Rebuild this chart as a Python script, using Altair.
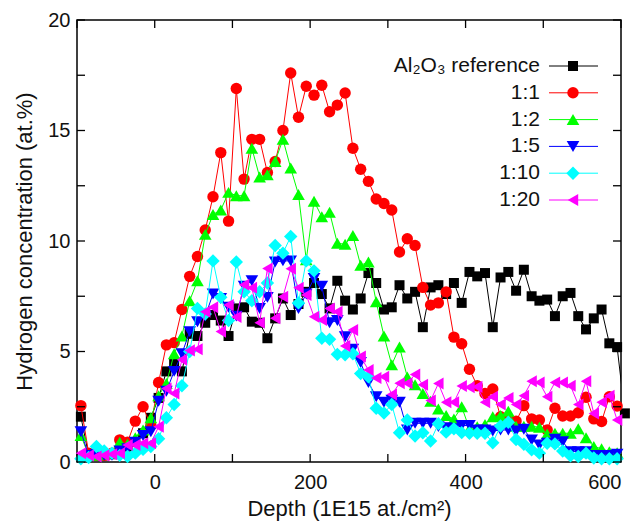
import altair as alt
import pandas as pd

# ---------------- data ----------------
depth = list(range(-95, 600, 10))  # 70 points, -95 ... 595

al2o3 = [2.05, 0.3, 0.3, 0.3, 0.35, 0.5, 0.7, 0.9, 1.3, 2.0,
         2.9, 4.1, 4.5, 4.1, 5.8, 5.7, 6.3, 6.65, 6.4, 5.7,
         6.95, 7.0, 6.35, 6.3, 5.6, 6.5, 7.4, 6.65, 7.15, 7.7,
         8.1, 7.6, 6.95, 8.2, 7.3, 6.9, 7.4, 8.55, 8.1, 6.9,
         7.0, 8.0, 7.4, 7.7, 6.1, 7.9, 8.0, 7.6, 8.1, 7.2,
         8.6, 8.4, 8.55, 6.1, 8.35, 8.6, 7.75, 8.7, 7.5, 7.3,
         7.35, 6.6, 7.5, 7.65, 6.6, 6.0, 6.5, 6.9, 5.37, 5.2, 2.2]
al2o3_depth = depth + [605]

r1_1 = [2.55, 0.4, 0.3, 0.3, 0.4, 1.0, 0.9, 1.85, 2.5, 1.65,
        3.6, 5.3, 5.4, 6.9, 8.4, 9.3, 10.5, 12.0, 14.0, 10.9,
        16.9, 12.8, 14.6, 14.6, 13.1, 13.6, 15.0, 17.6, 15.6, 17.0,
        16.6, 17.05, 15.85, 16.15, 16.7, 14.2, 13.25, 12.7, 11.9, 11.7,
        11.4, 9.5, 10.1, 9.8, 7.9, 7.1, 7.2, 7.7, 5.65, 5.35,
        4.2, 3.45, 3.1, 3.3, 2.05, 1.95, 1.85, 2.55, 1.95, 1.9,
        1.45, 2.43, 2.08, 2.08, 2.23, 2.93, 1.95, 1.83, 2.95, 2.53]

r1_2 = [1.2, 0.3, 0.3, 0.35, 0.4, 0.9, 0.8, 1.1, 1.45, 2.0,
        3.0, 3.55, 4.9, 5.7, 7.3, 8.2, 10.3, 11.2, 11.4, 12.2,
        12.05, 12.05, 14.2, 12.9, 13.0, 13.6, 14.6, 13.3, 12.1, 9.15,
        11.8, 11.1, 11.3, 9.9, 9.85, 10.25, 8.9, 9.05, 7.25, 5.7,
        4.4, 5.2, 3.85, 3.5, 3.1, 2.75, 2.4, 2.1, 1.95, 2.5,
        1.5, 1.6, 1.7, 2.05, 2.1, 2.3, 1.62, 1.62, 1.62, 1.57,
        1.27, 1.3, 1.3, 1.3, 1.5, 1.1, 0.7, 0.6, 0.47, 0.42]

r1_5 = [1.37, 0.3, 0.35, 0.3, 0.3, 0.5, 0.6, 0.9, 1.2, 1.37,
        2.75, 3.2, 4.1, 4.9, 5.9, 6.35, 6.6, 7.6, 7.4, 7.0,
        6.6, 7.95, 8.2, 6.95, 7.45, 9.05, 9.1, 9.1, 6.95, 7.6,
        8.3, 7.95, 6.3, 6.4, 5.67, 5.1, 4.5, 3.6, 2.95, 2.7,
        2.8, 2.7, 1.45, 1.75, 1.75, 1.75, 1.6, 1.55, 1.5, 1.65,
        1.65, 1.45, 1.45, 1.4, 1.45, 1.45, 1.4, 1.48, 1.0, 0.77,
        0.85, 1.03, 0.92, 0.47, 0.47, 0.47, 0.3, 0.3, 0.3, 0.35]

r1_10 = [0.15, 0.2, 0.7, 0.5, 0.4, 0.3, 0.25, 0.4, 0.57, 0.7,
         1.05, 2.0, 2.6, 3.45, 5.0, 6.95, 6.7, 9.1, 7.45, 6.4,
         9.05, 7.7, 7.3, 7.7, 8.1, 9.8, 9.45, 10.2, 7.2, 9.1,
         8.65, 5.6, 5.55, 4.87, 4.85, 4.9, 4.0, 3.85, 2.43, 2.22,
         2.6, 1.32, 1.9, 1.18, 1.32, 0.95, 1.73, 1.35, 1.5, 1.33,
         1.3, 1.3, 1.3, 0.87, 1.63, 1.8, 1.02, 0.8, 0.55, 0.4,
         0.85, 0.82, 0.5, 0.28, 0.25, 0.4, 0.18, 0.15, 0.15, 0.15]

r1_20 = [0.4, 0.3, 0.25, 0.3, 0.35, 0.4, 0.77, 0.77, 0.85, 0.85,
         1.6, 3.33, 3.1, 4.63, 5.05, 5.1, 6.8, 7.0, 5.9, 7.1,
         6.56, 8.02, 7.88, 6.3, 8.76, 6.5, 7.48, 8.74, 7.88, 7.56,
         6.57, 6.43, 6.95, 6.8, 5.25, 5.97, 4.77, 4.16, 3.8, 3.86,
         3.05, 3.56, 3.56, 3.96, 3.5, 2.78, 3.55, 2.7, 2.7, 3.44,
         3.38, 3.4, 2.7, 2.95, 2.6, 2.9, 2.6, 3.0, 3.65, 3.6,
         2.95, 3.6, 3.6, 3.45, 2.6, 3.65, 2.2, 2.7, 3.0, 1.9]

series_names = ["Al\u2082O\u2083 reference", "1:1", "1:2", "1:5", "1:10", "1:20"]
series_values = [al2o3, r1_1, r1_2, r1_5, r1_10, r1_20]
series_depths = [al2o3_depth, depth, depth, depth, depth, depth]

x_ticks = [-100, 0, 100, 200, 300, 400, 500, 600]
x_labels = [0, 200, 400, 600]
y_ticks = [0, 2.5, 5, 7.5, 10, 12.5, 15, 17.5, 20]
y_labels = [0, 5, 10, 15, 20]

# ---------------- styles ----------------
colors = ["#000000", "#ff0000", "#00ff00", "#0000ff", "#00ffff", "#ff00ff"]
shapes = ["square", "circle", "triangle-up", "triangle-down", "diamond", "triangle-left"]
sizes = [100, 130, 160, 160, 180, 145]

W, H = 544, 442
FONT = "Liberation Sans"

xscale = alt.Scale(domain=[-100, 600], nice=False, zero=False)
yscale = alt.Scale(domain=[0, 20], nice=False, zero=False)

xaxis = alt.Axis(values=x_labels, tickSize=0, domain=False, grid=False,
                 labelFontSize=20, labelPadding=10, labelColor="#111",
                 labelFont=FONT, title="Depth (1E15 at./cm\u00b2)",
                 titleFont=FONT, titleFontSize=22, titleFontWeight="normal",
                 titleColor="#111", titleY=53, titleBaseline="alphabetic")
yaxis = alt.Axis(values=y_labels, tickSize=0, domain=False, grid=False,
                 labelFontSize=20, labelPadding=7, labelColor="#111",
                 labelFont=FONT, title="Hydrogen concentration (at.%)",
                 titleFont=FONT, titleFontSize=22, titleFontWeight="normal",
                 titleColor="#111", titleX=-46, titleY=H / 2,
                 titleBaseline="alphabetic")


def X():
    return alt.X("x:Q", scale=xscale, axis=xaxis)


def Y():
    return alt.Y("y:Q", scale=yscale, axis=yaxis)


layers = []

for name, vals, xs, col, shp, sz in zip(series_names, series_values, series_depths,
                                         colors, shapes, sizes):
    df = pd.DataFrame({"x": xs, "y": vals})
    line = alt.Chart(df).mark_line(color=col, strokeWidth=1, clip=True).encode(
        x=X(), y=Y(), order="x:Q")
    pts = alt.Chart(df).mark_point(shape=shp, filled=True, color=col, size=sz,
                                   opacity=1, strokeWidth=0).encode(x=X(), y=Y())
    layers += [line, pts]

# inward ticks
dfx = pd.DataFrame({"x": x_ticks})
dfy = pd.DataFrame({"y": y_ticks})
TL = 8
layers.append(alt.Chart(dfx).mark_rule(color="black", strokeWidth=1.3).encode(
    x=X(), y=alt.value(H), y2=alt.value(H - TL)))
layers.append(alt.Chart(dfx).mark_rule(color="black", strokeWidth=1.3).encode(
    x=X(), y=alt.value(0), y2=alt.value(TL)))
layers.append(alt.Chart(dfy).mark_rule(color="black", strokeWidth=1.3).encode(
    y=Y(), x=alt.value(0), x2=alt.value(TL)))
layers.append(alt.Chart(dfy).mark_rule(color="black", strokeWidth=1.3).encode(
    y=Y(), x=alt.value(W), x2=alt.value(W - TL)))

# legend (top right, gnuplot style)
leg_text_x = 463
leg_line_x1, leg_line_x2 = 472, 521
leg_sym_x = 496
leg_y0, leg_dy = 46, 26.8
for i, (name, col, shp, sz) in enumerate(zip(series_names, colors, shapes, sizes)):
    yy = leg_y0 + i * leg_dy
    d = pd.DataFrame({"t": [name]})
    layers.append(alt.Chart(d).mark_text(align="right", baseline="middle",
                                         font=FONT, fontSize=21, color="#111").encode(
        text="t:N", x=alt.value(leg_text_x), y=alt.value(yy)))
    layers.append(alt.Chart(d).mark_rule(color=col, strokeWidth=1).encode(
        x=alt.value(leg_line_x1), x2=alt.value(leg_line_x2), y=alt.value(yy)))
    layers.append(alt.Chart(d).mark_point(shape=shp, filled=True, color=col, size=sz,
                                          opacity=1, strokeWidth=0).encode(
        x=alt.value(leg_sym_x), y=alt.value(yy)))

chart = alt.layer(*layers).properties(
    width=W, height=H,
    background="white",
    autosize=alt.AutoSizeParams(type="none"),
    padding={"left": 77, "top": 20, "right": 15, "bottom": 63},
).configure_view(stroke="black", strokeWidth=1.5)

chart.save("out.html", embed_options={"renderer": "svg", "actions": False})
